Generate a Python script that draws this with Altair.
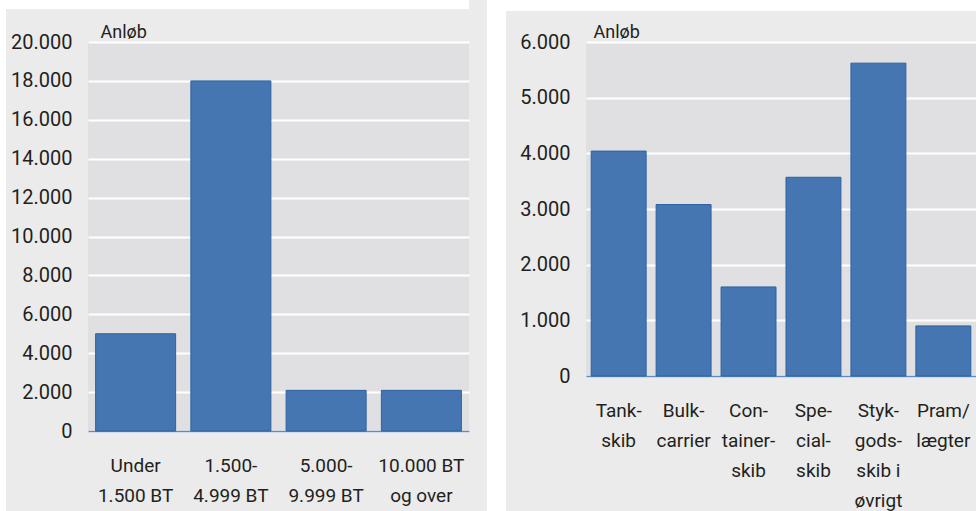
import altair as alt
import pandas as pd

# ---- data ----
left_categories = ["Under|1.500 BT", "1.500-|4.999 BT", "5.000-|9.999 BT", "10.000 BT|og over"]
left_values = [5000, 18000, 2090, 2090]
left_ticks = [0, 2000, 4000, 6000, 8000, 10000, 12000, 14000, 16000, 18000, 20000]

right_categories = ["Tank-|skib", "Bulk-|carrier", "Con-|tainer-|skib", "Spe-|cial-|skib",
                    "Styk-|gods-|skib i|øvrigt", "Pram/|lægter"]
right_values = [4040, 3080, 1600, 3570, 5620, 900]
right_ticks = [0, 1000, 2000, 3000, 4000, 5000, 6000]

y_title = "Anløb"

FONT = "Roboto, Liberation Sans, sans-serif"
TEXT = "#231f20"
BAR = "#4576b1"
BAR_STROKE = "#2a63a3"
PLOT_BG = "#e0e0e2"
OUTER_BG = "#ebebeb"
ZERO_LINE = "#5b8cc6"

LABEL_EXPR_Y = "replace(format(datum.value, ','), ',', '.')"
LABEL_EXPR_X = "split(datum.label, '|')"


def panel(cats, vals, ticks, width, height, title_x, pad_outer, pad_inner, whites):
    df = pd.DataFrame({"cat": cats, "val": vals})
    bars = alt.Chart(df).mark_bar(
        color=BAR, stroke=BAR_STROKE, strokeWidth=1
    ).encode(
        x=alt.X("cat:N", sort=cats,
                scale=alt.Scale(paddingInner=pad_inner, paddingOuter=pad_outer),
                axis=alt.Axis(title=None, labelAngle=0, ticks=False, grid=False,
                              domain=True, domainColor=ZERO_LINE, domainWidth=1.5,
                              labelExpr=LABEL_EXPR_X, labelFontSize=19,
                              labelLineHeight=30, labelPadding=25,
                              labelBaseline="top", labelFont=FONT,
                              labelColor=TEXT, labelAlign="center")),
        y=alt.Y("val:Q",
                scale=alt.Scale(domain=[ticks[0], ticks[-1]], nice=False),
                axis=alt.Axis(title=y_title, titleAngle=0, titleX=title_x, titleY=-5,
                              titleAlign="left", titleBaseline="alphabetic",
                              titleFont=FONT, titleFontSize=18, titleFontWeight="normal",
                              titleColor=TEXT,
                              values=ticks, labelExpr=LABEL_EXPR_Y, ticks=False,
                              domain=False, grid=True, gridColor="white", gridWidth=2,
                              labelFont=FONT, labelFontSize=20, labelColor=TEXT,
                              labelPadding=16, labelBaseline="middle")),
    )
    layers = [bars]
    for (x1, x2, y1, y2) in whites:
        layers.append(
            alt.Chart(alt.Data(values=[{"k": 1}])).mark_rect(color="white").encode(
                x=alt.value(x1), x2=alt.value(x2), y=alt.value(y1), y2=alt.value(y2)
            )
        )
    return alt.layer(*layers).properties(width=width, height=height)


# white frame strips (decoration) in plot-relative pixels
left = panel(left_categories, left_values, left_ticks, 381, 389, 12, 0.08, 0.16,
             whites=[(-88, -82, -42, 469), (-88, 381, -42, -33)])
right = panel(right_categories, right_values, right_ticks, 390, 334, 7, 0.08, 0.154,
              whites=[(-99, -80, -42, 469), (-99, 390, -42, -31)])

chart = alt.hconcat(left, right, spacing=18).properties(
    padding={"left": 0, "top": 0, "right": 0, "bottom": 0},
    background=OUTER_BG,
).configure_view(fill=PLOT_BG, stroke=None).configure_concat(spacing=18)

chart.save("out.html", embed_options={"renderer": "svg", "actions": False})
